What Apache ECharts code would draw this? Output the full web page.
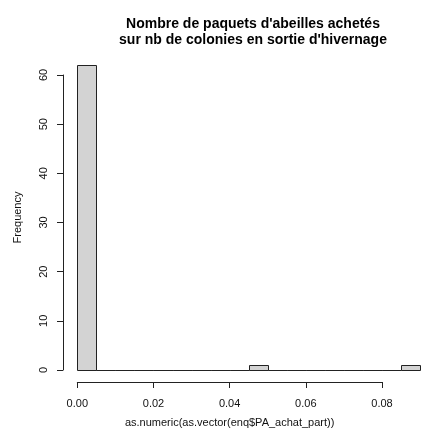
<!DOCTYPE html>
<html>
<head>
<meta charset="utf-8">
<script src="https://cdn.jsdelivr.net/npm/echarts@6/dist/echarts.min.js"></script>
<style>html,body{margin:0;padding:0;background:#fff;}#c{width:421px;height:439px;}</style>
</head>
<body>
<div id="c"></div>
<script>
// Histogram bins (width 0.005) and counts
const binStarts = [0.000,0.005,0.010,0.015,0.020,0.025,0.030,0.035,0.040,0.045,0.050,0.055,0.060,0.065,0.070,0.075,0.080,0.085];
const binEnds   = [0.005,0.010,0.015,0.020,0.025,0.030,0.035,0.040,0.045,0.050,0.055,0.060,0.065,0.070,0.075,0.080,0.085,0.090];
const counts    = [62,0,0,0,0,0,0,0,0,1,0,0,0,0,0,0,0,1];
const titleText = "Nombre de paquets d'abeilles achetés\nsur nb de colonies en sortie d'hivernage";
const xTitle = "as.numeric(as.vector(enq$PA_achat_part))";
const yTitle = "Frequency";
const xTickVals = [0, 0.02, 0.04, 0.06, 0.08];
const yTickVals = [0, 10, 20, 30, 40, 50, 60];

const font = "Liberation Sans, Arial, sans-serif";
const data = binStarts.map((s, i) => [s, binEnds[i], counts[i]]);

const chart = echarts.init(document.getElementById('c'), null, {renderer: 'canvas'});
chart.setOption({
  animation: false,
  backgroundColor: '#fff',
  title: {
    text: titleText,
    left: 248, top: 11, textAlign: 'center',
    textStyle: {fontFamily: font, fontSize: 14, fontWeight: 'bold', color: '#000', lineHeight: 16}
  },
  grid: [
    {left: 77.3, width: 342.8, top: 65.1, height: 304.9},
    {left: 77.3, width: 304.7, top: 381, height: 1},
    {left: 63, width: 1, top: 75, height: 295},
    {left: 63, width: 1, top: 53, height: 329}
  ],
  xAxis: [
    {gridIndex: 0, type: 'value', min: 0, max: 0.09, show: false},
    {gridIndex: 1, type: 'value', min: xTickVals[0], max: xTickVals[xTickVals.length-1], interval: 0.02,
     position: 'bottom',
     axisLine: {show: true, lineStyle: {color: '#222', width: 1}},
     axisTick: {show: true, length: 6, lineStyle: {color: '#222'}},
     axisLabel: {show: true, margin: 16, fontFamily: font, fontSize: 11, color: '#111',
                 formatter: v => v.toFixed(2)},
     splitLine: {show: false},
     name: xTitle, nameLocation: 'middle', nameGap: 35, nameMoveOverlap: false,
     nameTextStyle: {fontFamily: font, fontSize: 11, color: '#111'}},
    {gridIndex: 2, type: 'value', show: false, min: 0, max: 1},
    {gridIndex: 3, type: 'value', show: false, min: 0, max: 1}
  ],
  yAxis: [
    {gridIndex: 0, type: 'value', min: 0, max: 62, show: false},
    {gridIndex: 1, type: 'value', show: false, min: 0, max: 1},
    {gridIndex: 2, type: 'value', min: yTickVals[0], max: yTickVals[yTickVals.length-1], interval: 10,
     position: 'left',
     axisLine: {show: true, lineStyle: {color: '#222', width: 1}},
     axisTick: {show: true, length: 6, lineStyle: {color: '#222'}},
     axisLabel: {show: true, rotate: 90, margin: 14, fontFamily: font, fontSize: 11, color: '#111'},
     splitLine: {show: false}},
    {gridIndex: 3, type: 'value', min: 0, max: 1, position: 'left',
     axisLine: {show: false}, axisTick: {show: false}, axisLabel: {show: false}, splitLine: {show: false},
     name: yTitle, nameLocation: 'middle', nameGap: 40, nameRotate: 90, nameMoveOverlap: false,
     nameTextStyle: {fontFamily: font, fontSize: 11, color: '#111'}}
  ],
  series: [{
    type: 'custom',
    xAxisIndex: 0, yAxisIndex: 0,
    clip: false,
    data: data,
    renderItem: function (params, api) {
      const p0 = api.coord([api.value(0), api.value(2)]);
      const p1 = api.coord([api.value(1), 0]);
      const x0 = Math.round(p0[0]) + 0.5, x1 = Math.round(p1[0]) + 0.5;
      const y0 = Math.round(p0[1]) + 0.5, y1 = Math.round(p1[1]) + 0.5;
      return {
        type: 'rect',
        shape: {x: x0, y: y0, width: x1 - x0, height: y1 - y0},
        style: {fill: '#d3d3d3', stroke: '#222', lineWidth: 1}
      };
    }
  }]
});
</script>
</body>
</html>
